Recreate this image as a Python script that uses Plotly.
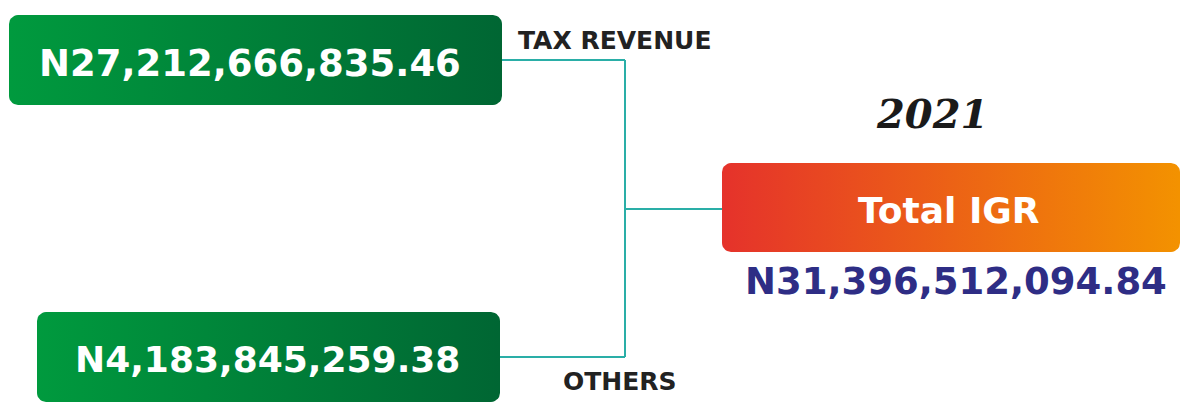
"""Total IGR 2021 breakdown — two green source boxes feeding an orange total box."""
import numpy as np
import plotly.graph_objects as go

YEAR = "2021"
SOURCE_LABELS = ["TAX REVENUE", "OTHERS"]
SOURCE_VALUES = [27212666835.46, 4183845259.38]
TOTAL_LABEL = "Total IGR"
TOTAL_VALUE = 31396512094.84

W, H = 1183, 403
GREEN_SCALE = [[0, "#009a3e"], [1, "#006633"]]
ORANGE_SCALE = [[0, "#e5322b"], [1, "#f39200"]]
TEAL = "#2aaea7"

# box geometry in pixel space: (x0, y0, x1, y1)
SOURCE_BOXES = [(9, 15, 502, 105), (37, 312, 500, 402)]
TOTAL_BOX = (722, 163, 1180, 252)
JOIN_X = 625
JOIN_Y = [60, 357]   # where each source connector meets its box
TOTAL_Y = 209


def money(v):
    return f"N{v:,.2f}"


def rounded_rect(x0, y0, x1, y1, r=9, n=8):
    xs, ys = [], []
    corners = [(x1 - r, y0 + r, -np.pi / 2, 0), (x1 - r, y1 - r, 0, np.pi / 2),
               (x0 + r, y1 - r, np.pi / 2, np.pi), (x0 + r, y0 + r, np.pi, 1.5 * np.pi)]
    for cx, cy, a0, a1 in corners:
        t = np.linspace(a0, a1, n)
        xs += list(cx + r * np.cos(t))
        ys += list(cy + r * np.sin(t))
    xs.append(xs[0])
    ys.append(ys[0])
    return xs, ys


def box_trace(box, scale):
    xs, ys = rounded_rect(*box)
    return go.Scatter(
        x=xs, y=ys, mode="lines", fill="toself", line=dict(width=0),
        fillgradient=dict(type="horizontal", colorscale=scale),
        hoverinfo="skip", showlegend=False,
    )


fig = go.Figure()
for box in SOURCE_BOXES:
    fig.add_trace(box_trace(box, GREEN_SCALE))
fig.add_trace(box_trace(TOTAL_BOX, ORANGE_SCALE))

# connectors
shapes = []
for box, ym in zip(SOURCE_BOXES, JOIN_Y):
    shapes.append(dict(type="line", x0=box[2], x1=JOIN_X, y0=ym, y1=ym))
shapes.append(dict(type="line", x0=JOIN_X, x1=JOIN_X, y0=JOIN_Y[0], y1=JOIN_Y[1]))
shapes.append(dict(type="line", x0=JOIN_X, x1=TOTAL_BOX[0], y0=TOTAL_Y, y1=TOTAL_Y))
for s in shapes:
    s.update(xref="x", yref="y", line=dict(color=TEAL, width=2), layer="below")

BOLD = "DejaVu Sans"
annotations = [
    dict(x=250, y=63, text=f"<b>{money(SOURCE_VALUES[0])}</b>",
         font=dict(family=BOLD, size=37, color="white")),
    dict(x=267, y=359, text=f"<b>{money(SOURCE_VALUES[1])}</b>",
         font=dict(family=BOLD, size=36, color="white")),
    dict(x=615, y=40, text=f"<b>{SOURCE_LABELS[0]}</b>",
         font=dict(family=BOLD, size=25, color="#222222")),
    dict(x=620, y=381, text=f"<b>{SOURCE_LABELS[1]}</b>",
         font=dict(family=BOLD, size=25, color="#222222")),
    dict(x=932, y=113, text=f"<b><i>{YEAR}</i></b>",
         font=dict(family="DejaVu Serif", size=40, color="#1a1a1a")),
    dict(x=949, y=210, text=f"<b>{TOTAL_LABEL}</b>",
         font=dict(family=BOLD, size=36, color="white")),
    dict(x=956, y=281, text=f"<b>{money(TOTAL_VALUE)}</b>",
         font=dict(family=BOLD, size=37, color="#2e2d85")),
]
for a in annotations:
    a.update(xref="x", yref="y", showarrow=False, xanchor="center", yanchor="middle")

fig.update_layout(
    width=W, height=H,
    margin=dict(l=0, r=0, t=0, b=0),
    paper_bgcolor="white", plot_bgcolor="white",
    xaxis=dict(range=[0, W], visible=False, fixedrange=True),
    yaxis=dict(range=[H, 0], visible=False, fixedrange=True),
    shapes=shapes, annotations=annotations,
)
fig.write_html(
    "out.html", config={"displayModeBar": False},
    post_script="document.body.style.margin='0';document.body.style.overflow='hidden';",
)
